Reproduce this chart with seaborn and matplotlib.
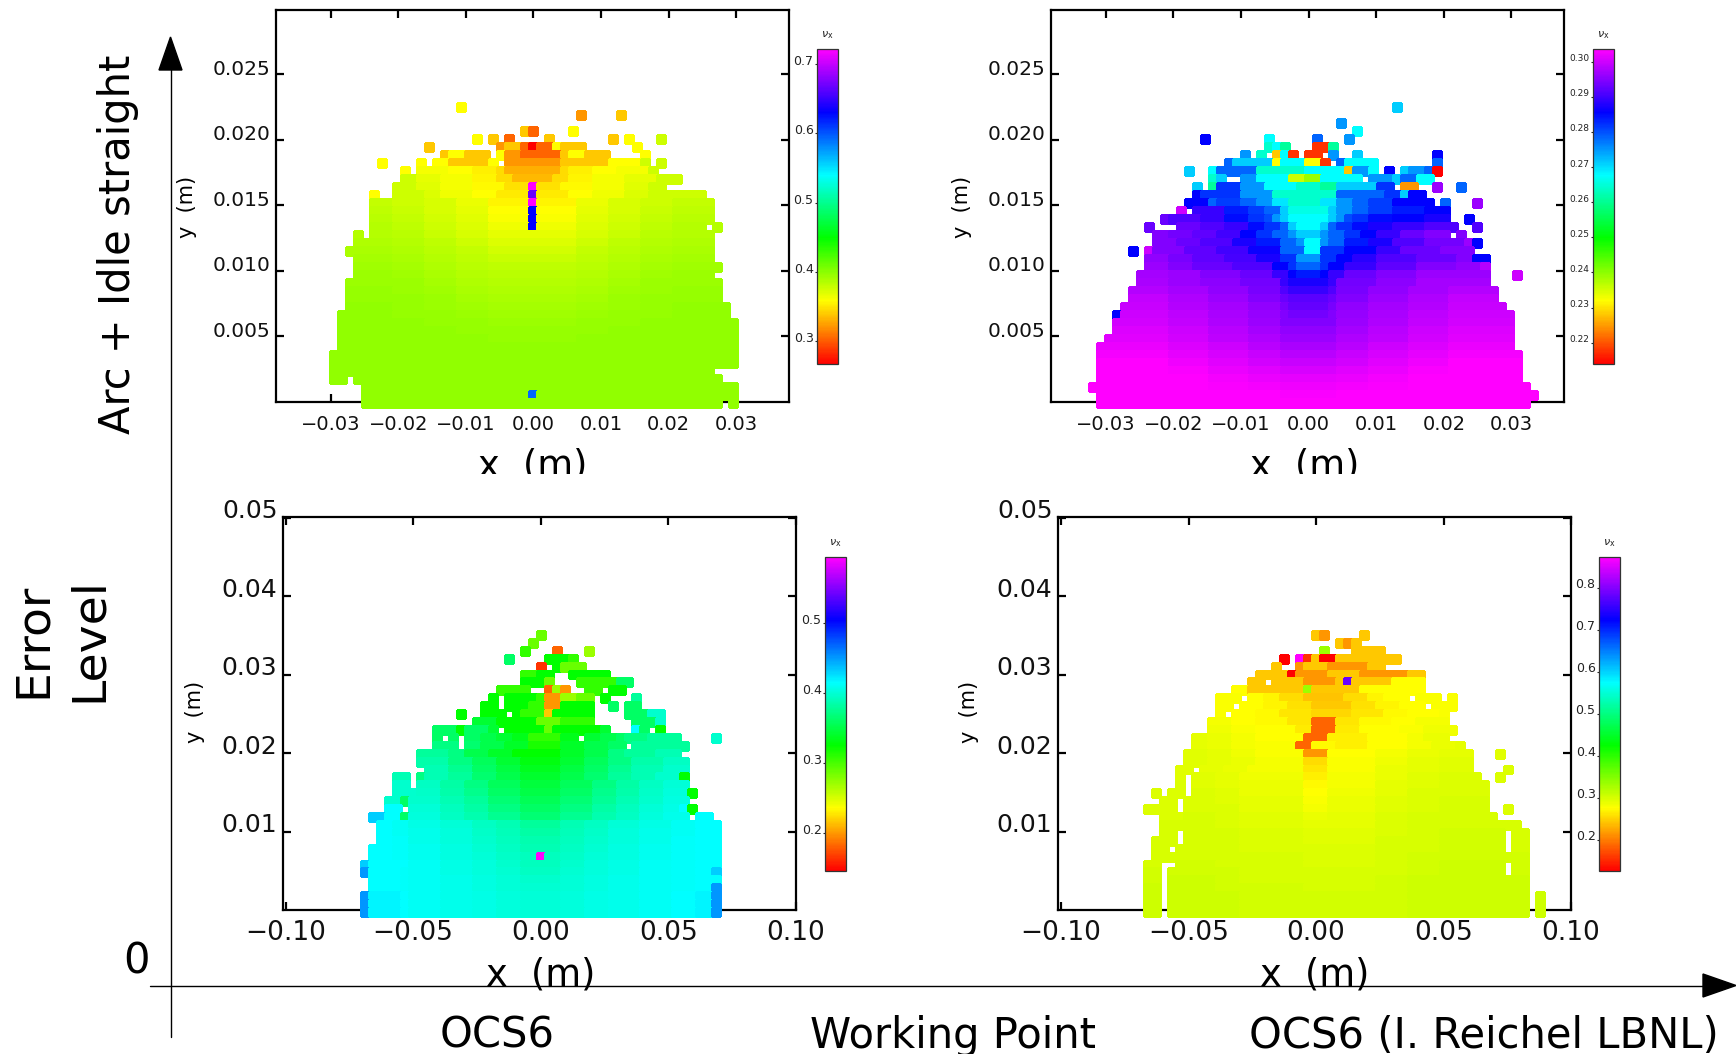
import re
import numpy as np
import matplotlib
matplotlib.use("Agg")
import matplotlib.pyplot as plt
from matplotlib.colors import ListedColormap, hsv_to_rgb
from matplotlib.transforms import ScaledTranslation, Bbox
from matplotlib.patches import Polygon
from matplotlib.lines import Line2D
import seaborn as sns

# Tune maps: one string per row, runs of "<count><level>[tenth]", "." = no particle,
# level a..z runs from the bottom to the top of the panel's colour bar.
tl_rows = ["16. 1f", "31. 1d 4. 1e", "", "24. 1e 1c 4. 1f",
 "18. 1f 1. 1e 1. 1c 4. 1e 7. 1e 1. 1f 3. 1g",
 "12. 1e 8. 1d 2e 1c 1a 2c 1f 3e 6. 1f",
 "14. 1e 2f 3e 1. 1f 2d 5c 1e 2f 3e 4. 1f",
 "6. 1f 4. 1f 1. 2f 3e 2e 1f 1. 7d 6e 4f 1g 1. 1g",
 "9. 1f 1. 4f2 3f 3e7 1e3 7d5 1e3 3e7 3f 4f2 1g",
 "9. 2g 3f5 4f2 3e8 2e3 5d7 2e3 3e8 4f2 4f5 3g",
 "8. 3g 3f6 4f2 4e9 3e4 1z 3e4 4e9 4f2 3f6 2g",
 "5. 1f 2. 4g 2f7 4f3 3f 4e6 1w 4e6 3f 4f3 3f7 4g 3g",
 "5. 3g2 4g 4f8 4f4 5e8 1z 5e8 4f4 4f8 4g 5g2",
 "5. 3g3 4g1 4f8 4f5 5f 1u 5f 4f5 4f8 4g1 5g3",
 "5. 3g4 4g2 4f9 4f6 5f1 1u 5f1 4f6 4f9 4g2 5g4",
 "5. 3g5 4g3 4g 4f7 5f3 1u 5f3 4f7 4g 4g3 4g5 1. 1g5",
 "3. 1g5 1. 3g5 4g4 4g1 4f8 11f5 4f8 4g1 4g4 5g5",
 "3. 2g6 3g6 4g5 4g3 4g 11f7 4g 4g3 4g5 5g6",
 "2. 3g7 3g7 4g6 4g4 4g2 11f9 4g2 4g4 4g6 5g7",
 "3. 2g8 3g8 4g7 4g5 4g3 11g1 4g3 4g5 4g7 5g8",
 "3. 2g9 3g9 4g8 4g6 4g4 11g3 4g4 4g6 4g8 6g9",
 "3. 2h 3h 4g9 4g7 4g5 11g4 4g5 4g7 4g9 5h",
 "2. 3h 3h 4h 4g8 4g6 11g5 4g6 4g8 4h 6h",
 "2. 6h1 4h 4g9 4g7 11g6 4g7 4g9 4h 6h1",
 "2. 6h1 4h1 4h 4g8 11g7 4g8 4h 4h1 6h1",
 "2. 6h2 4h1 4h 4g9 11g8 4g9 4h 4h1 7h2",
 "1. 7h2 4h1 4h1 4h 11g9 4h 4h1 4h1 7h2",
 "1. 7h2 4h2 4h1 4h1 11h 4h1 4h1 4h2 8h2",
 "1. 11h2 4h2 4h1 11h1 4h1 4h2 12h2",
 "1. 19h2 11h1 20h2",
 "1. 50h2",
 "51h2", "51h2", "48h2", "2h2 1. 46h2", "4. 47h2", "4. 21h2 1s 25h2", "4. 45h2 1. 1h2"]

tr_rows = ["38. 1q", "", "31. 1r", "33. 1p",
 "14. 1u 7. 1p 5. 1s 3. 1r",
 "22. 1o 1p 1n 3. 2b 1n",
 "19. 1r 1. 1o 1. 1e 1p 1b 1. 2b 1. 1r 2. 1q 9. 1u",
 "17. 1s 3q 2q 1f 3p 2f 1b 1. 1s 4p 7. 1s",
 "12. 1q 2. 1p 5s 6o 1p 4p 1e 2r 1p 1. 1u 1. 1q 2r 1s 1a",
 "15. 1o 1q 2. 2r 4p 2g 2h 5p 1. 3r 1q 2s 2p",
 "13. 1q 1. 1n 3t 3r 4p 3o 2n 5q 2t 1. 2d 2. 1x 2. 1s",
 "13. 1u 1t 4t 4r 8o 6s 2t 1q 2u",
 "12. 3u 1s 3s8 2s 2r 2p5 4o 2p5 2r 2s 3s8 5u 1. 1s 3. 1x",
 "11. 1y 1. 4v 3t5 2s8 2s 1q 5o5 1q 2r 2s 3s8 4t5 3u",
 "9. 1w 4v5 3v 3t8 2t 1s5 1r 1q 5p 1q 1r 1s5 2t 3t8 4u 3u5 2. 1u",
 "7. 1w 3. 3w 3v5 3v 2t8 2t 1s 1q 3p 1q 1s 2t 2t8 3u5 4v 4v5 2. 1v5",
 "8. 2w5 3w2 3v8 3v2 2u 2t 2s 1r 3q 1r 2s 2t 2u 3v 3w 3w5 1. 1w5",
 "8. 3w5 3w 4v5 3u5 3t5 2s 1r 2p 1r 2s 3t5 3u5 4v5 5w2 1x 1u",
 "5. 1u 1. 1y 4w5 4v8 4v2 4u2 3s 2p 3t 4u 3v 5w 4w5",
 "7. 3w8 3w3 4v8 4v3 3u5 2t 3r 2t 2u 3u8 5v5 5w 2w5 2u",
 "7. 3x 3w5 5w 5v5 2u 1t 3s 1t 2u 4v 5v8 5w5 3w8 1x5",
 "6. 4x2 4x 5w5 4w 2v 1u 3t5 1u 2v 4w 5w5 9x 3. 1y",
 "6. 4x3 4x 5w7 5w2 1v 5u5 1v 5w2 5w7 9x2",
 "5. 5x5 5x2 5w8 4w3 1v5 5v 1v5 4w3 5w8 5x2 6x5",
 "5. 5x8 5x4 5x 4w5 1w 5v7 1w 4w5 5x 5x4 6x8",
 "4. 6x9 5x5 5x2 4w8 1w3 5v9 1w3 4w8 5x2 5x5 7x9",
 "3. 1u 6y 5x7 5x3 4w9 1w5 5w2 1w5 4w9 5x3 5x7 8y",
 "3. 7y1 5x8 5x4 4x 7w5 4x 5x4 5x8 8y1",
 "3. 7y3 5y 5x6 4x2 7w8 4x2 5x6 5y 8y3",
 "2. 8y4 5y1 5x7 4x4 7x 4x4 5x7 5y1 8y4",
 "1. 9y6 5y3 5y 4x6 7x3 4x6 5y 5y3 8y6",
 "1. 9y8 5y5 5y2 4x9 7x6 4x9 5y2 5y5 9y8",
 "1. 9z 5y7 5y4 4y1 7x9 4y1 5y4 5y7 9z",
 "1. 9z 5y9 5y6 4y4 7y2 4y4 5y6 5y9 9z",
 "1. 14z 5y8 4y6 7y5 4y6 5y8 14z",
 "15z 5y9 4y8 7y7 4y8 5y9 15z",
 "1. 23z 7y9 25z",
 "1. 54z"]

bl_rows = ["22. 1i", "21. 1i", "20. 1j 3. 1c 3. 1h", "18. 1m 4. 2k 1k 1j",
 "22. 1b 1. 1k 3i", "20. 2j 2k 2. 5k", "20. 3k 1i 3. 5j 2m",
 "17. 4j 2. 1c 1h 1d 2. 2j 1. 2k",
 "16. 1k 1. 4k 1j 2d 2h 2i 1. 1k 3. 1n",
 "15. 2k 1. 3k 2j 2d 4k 2. 1m 1. 2m",
 "12. 1k 2. 3k 1. 1k 3j 1e 5k 4. 3m 2o",
 "14. 3l 5k 3i 4j 5. 3m 1o",
 "9. 3m 1k 3m 1l 1. 5k 1i 6k 1l 3. 1p 1m 1. 1k",
 "9. 1m 1. 1m 1. 2m 2l5 2l 2k5 4j 2k5 1. 2l 2l5 1m 3m5 4n 4. 1o",
 "9. 3m5 1. 2m2 3l5 3k8 4j5 3k8 3l5 2m 1. 7n",
 "7. 4n 2m5 3l5 3k8 6k 3k8 3l5 2m5 4n 3n5",
 "7. 4n3 3m5 3l8 3l 5k3 3l 3l8 3m5 4n3 3n8",
 "8. 3n5 3m8 3m 3l3 5k6 3l3 3m 3m8 4n5 3o",
 "4. 2n5 1. 1m5 3n5 3n 3m2 3l5 5k9 3l5 3m2 3n 3n5 3o 1k",
 "4. 2o 1. 3n8 3n2 3m5 4l8 5l2 4l8 3m5 3n2 3n8 3o2",
 "4. 3o 3n9 3n3 3m7 4m 5l4 4m 3m7 3n3 3n9 3o3 1k",
 "3. 2o 1m 4o 3n5 3n 4m3 5l7 4m3 3m9 3n5 3o 3o4",
 "3. 2p 1. 4o2 3n7 3n2 4m5 5m 4m5 3n2 3n7 3o2 2o5 1p 1k",
 "1. 2q 2p 1m 4o3 3n8 3n4 4m8 5m3 4m8 3n4 3n8 3o3 3o6 1. 2p",
 "2. 2p 2o8 4o5 4o2 3n8 3n5 5n 3n5 3n8 4o2 4o5 3o8 3p",
 "2. 2p 2o8 4o6 4o3 3n9 3n6 5n2 3n6 3n9 4o3 4o6 3o8 3p",
 "2. 2p 2o9 4o6 4o3 3o 3n7 5n4 3n7 3o 4o3 4o6 3o9 3p",
 "1. 3p 2o9 4o7 4o4 3o1 3n8 5n5 3n8 3o1 4o4 4o7 3o9 3p",
 "1. 3p 2o9 4o7 4o4 3o2 3n9 2n7 1z 2n7 3n9 3o2 4o4 4o7 3o9 3p",
 "1q 5p 4o8 4o5 3o3 3o 5n7 3o 3o3 4o5 4o8 3o9 3p",
 "1r 4p 1o9 4o8 4o5 3o3 3o1 5n8 3o1 3o3 4o5 4o8 3o9 2p 1q",
 "1. 4p 1o9 4o8 4o6 3o4 3o2 5o 3o2 3o4 4o6 4o8 3o9 3p",
 "1. 4p 1o9 4o8 4o6 3o4 3o2 5o1 3o2 3o4 4o6 4o8 3o9 2p 1r",
 "1r 4p2 1p 4o8 4o6 3o5 3o3 5o2 3o3 3o5 4o6 4o8 3p 2p2 1r",
 "1r 4p2 1p 4o8 4o6 3o5 3o3 5o2 3o3 3o5 4o6 4o8 3p 2p2 1r",
 "1r 4p2 1p 4o8 4o6 3o5 3o3 5o2 3o3 3o5 4o6 4o8 3p 2p2 1r"]

br_rows = ["22. 1e 1d 4. 1e", "25. 1e 1d 1e", "23. 1h 3. 4e",
 "18. 1a 1. 1z 1b 1e 2a 2e 6e",
 "17. 1e 2. 1d 3e 5d 2e",
 "15. 4e 1a 4d 4e 6d 2e",
 "14. 2e 1. 4e 4d 1e 1w 5e 4f",
 "12. 2f 7e 1h 6e 8f",
 "10. 3f1 1. 2f 2e8 3e3 5d9 3e3 2e8 3f 1. 3f1 1. 1f1",
 "10. 2f1 1. 3f 3e8 3e4 5e 3e4 3e8 3f 1. 3f1",
 "10. 1f1 1. 3f 3e9 4e5 5e2 4e5 3e9 4f 1f1",
 "9. 3f2 3f 4e9 3e5 3c 3e5 4e9 3f 4f2",
 "9. 3f3 3f1 5f 2e6 3c 3e6 5f 3f1 4f3",
 "7. 2f5 3f4 3f2 6f 3c 5e7 5f 2f2 3f4",
 "7. 2f5 3f4 3f2 5f1 2c 3e9 4e7 5f 3f2 3f4 1f5",
 "6. 3f6 3f5 3f3 6f1 3d 6f 4f2 4f4 4f5 3. 1f6",
 "6. 3f6 3f5 3f4 6f2 3e3 6f1 4f3 4f5 4f6",
 "5. 2f6 1. 3f5 3f4 7f2 3e5 6f1 4f4 4f5 4f6 4. 1f7",
 "5. 1f6 1. 3f6 3f5 8f3 3e7 6f2 4f4 4f6 5f7 2. 1f7",
 "5. 1f7 1. 3f6 3f5 8f4 3e9 6f2 4f5 4f6 6f7",
 "2. 1f7 1. 2f7 1. 3f7 3f6 8f4 3f 6f3 4f5 4f7 6f7",
 "3. 2f7 1. 4f7 3f6 8f5 3f1 6f4 4f6 4f7 6f8",
 "1. 4f7 1. 4f7 3f7 8f5 3f2 6f4 4f6 4f7 6f8 2. 1f7",
 "3. 3f7 4f8 3f7 8f6 3f4 6f5 4f7 4f8 7f8",
 "3. 3f8 4f8 3f7 8f6 3f5 6f5 4f7 4f8 10f8",
 "3. 2f8 1. 4f8 3f8 8f7 3f6 6f6 4f7 4f8 8f9 1. 2f8",
 "2. 3f8 1. 4f8 3f8 8f7 3f6 6f6 4f8 4f8 8f9 1. 2f8",
 "2. 2f8 1. 5f8 3f8 8f7 3f7 6f7 4f8 4f8 8f9 1. 2f8",
 "2. 8f8 3f8 8f8 3f7 6f7 4f8 4f9 11f9",
 "1. 2f8 2. 5f9 3f8 8f8 3f7 6f7 4f8 4f9 8g 1. 2f9",
 "1. 2f9 1. 6f9 3f9 8f8 3f8 6f8 4f8 4f9 8g 1. 2f9",
 "1. 2f9 1. 6g 3f9 8f8 3f8 6f8 4f9 4g 11g",
 "1. 2g 1. 6g 3f9 8f9 3f8 6f8 4f9 4g 11g",
 "1. 2g 1. 9g 8f9 3f9 6f9 4f9 4g 11g 1. 1g",
 "1. 2g 1. 9g 8f9 3f9 6f9 4f9 4g 11g 1. 1g",
 "1. 2g 1. 9g 8f9 3f9 6f9 4f9 4g 11g 1. 1g"]

top_x_ticks = [-0.03, -0.02, -0.01, 0.00, 0.01, 0.02, 0.03]
top_x_labels = ["\u22120.03", "\u22120.02", "\u22120.01", "0.00", "0.01", "0.02", "0.03"]
top_y_ticks = [0.005, 0.010, 0.015, 0.020, 0.025]
top_y_labels = ["0.005", "0.010", "0.015", "0.020", "0.025"]
bot_x_ticks = [-0.10, -0.05, 0.00, 0.05, 0.10]
bot_x_labels = ["\u22120.10", "\u22120.05", "0.00", "0.05", "0.10"]
bot_y_ticks = [0.01, 0.02, 0.03, 0.04, 0.05]
bot_y_labels = ["0.01", "0.02", "0.03", "0.04", "0.05"]
tl_cbar_ticks = [0.3, 0.4, 0.5, 0.6, 0.7]
tr_cbar_ticks = [0.22, 0.23, 0.24, 0.25, 0.26, 0.27, 0.28, 0.29, 0.30]
bl_cbar_ticks = [0.2, 0.3, 0.4, 0.5]
br_cbar_ticks = [0.2, 0.3, 0.4, 0.5, 0.6, 0.7, 0.8]

sns.set_style("white")
plt.rcParams["font.family"] = "DejaVu Sans"
W, H = 1736, 1054
fig = plt.figure(figsize=(W / 100, H / 100), dpi=100)
cmap = ListedColormap(hsv_to_rgb(np.column_stack([np.linspace(0, 5 / 6, 256), np.ones(256), np.ones(256)])))


def decode(rows, ncols, vmin, vmax):
    out = np.full((len(rows), ncols), np.nan)
    for r, row in enumerate(rows):
        c = 0
        for n, ch, tenth in re.findall(r"(\d+)([a-z.])(\d?)", row):
            n = int(n)
            if ch != ".":
                lev = ord(ch) - 97 + (int(tenth) / 10 if tenth else 0)
                out[r, c:c + n] = vmin + (vmax - vmin) * lev / 25
            c += n
    return out


def axbox(l, t, r, b):
    return [l / W, 1 - b / H, (r - l) / W, (b - t) / H]


def panel(rows, ncols, frame, xlim, ylim, x0, dx, y0, dy, xt, xl, yt, yl, cbox, vlim, cticks,
          cfmt, cfs, xfs, yfs, ypad_up, xpad):
    ax = fig.add_axes(axbox(*frame))
    cax = fig.add_axes(axbox(*cbox))
    vals = decode(rows, ncols, *vlim)
    sns.heatmap(vals, ax=ax, cmap=cmap, vmin=vlim[0], vmax=vlim[1], cbar_ax=cax,
                cbar_kws={"ticks": cticks, "format": cfmt}, xticklabels=False, yticklabels=False)
    mesh = ax.collections[0]
    mesh.set_clip_on(False)
    mesh.set_zorder(5)
    mesh.set_edgecolor("face")
    mesh.set_linewidth(0.9)
    mesh.set_joinstyle("miter")
    cx = lambda v: (np.asarray(v) - x0) / dx
    cy = lambda v: (y0 - np.asarray(v)) / dy
    ax.set_xlim(cx(xlim[0]), cx(xlim[1]))
    ax.set_ylim(cy(ylim[0]), cy(ylim[1]))
    ax.set_xticks(cx(xt), xl, fontsize=xfs)
    ax.set_yticks(cy(yt), yl, fontsize=yfs)
    ax.tick_params(which="both", direction="in", length=6, width=1.6, top=True, right=True,
                   bottom=True, left=True, color="black", labelcolor="#111111")
    ax.tick_params(axis="x", pad=xpad)
    ax.tick_params(axis="y", pad=4)
    shift = ScaledTranslation(0, ypad_up / 72, fig.dpi_scale_trans)
    for t in ax.get_yticklabels():
        t.set_transform(t.get_transform() + shift)
    for s in ax.spines.values():
        s.set_visible(True)
        s.set_linewidth(1.6)
        s.set_color("black")
    cax.yaxis.set_ticks_position("left")
    cax.tick_params(axis="y", direction="out", length=1.5, width=0.8, pad=1, labelsize=cfs,
                    labelcolor="#222222", left=True, right=False)
    shift2 = ScaledTranslation(0, 3 / 72, fig.dpi_scale_trans)
    for t in cax.get_yticklabels():
        t.set_transform(t.get_transform() + shift2)
    cb = mesh.colorbar
    cb.outline.set_visible(True)
    cb.outline.set_linewidth(0.9)
    cb.outline.set_edgecolor("#333333")
    fig.text((cbox[0] + cbox[2]) / 2 / W, 1 - (cbox[1] - 14) / H, r"$\nu_{\mathrm{x}}$", fontsize=8,
             ha="center", va="center", color="#222222")


panel(tl_rows, 51, (276, 10, 789.5, 402), (-0.0381, 0.0379), (0, 0.0299),
      -25.5 * 8 / 6760, 8 / 6760, (402 - 103) / 13100, 8 / 13100,
      top_x_ticks, top_x_labels, top_y_ticks, top_y_labels, (817, 49, 838, 364),
      (0.2675, 0.7217), tl_cbar_ticks, "%.1f", 9, 14, 14.5, 5, 9)
panel(tr_rows, 56, (1051, 10, 1564, 402), (-0.03812, 0.03777), (0, 0.0299),
      -27.5 * 8 / 6760, 8 / 6760, (402 - 103) / 13100, 8 / 13100,
      top_x_ticks, top_x_labels, top_y_ticks, top_y_labels, (1593, 49, 1614, 364),
      (0.2139, 0.3037), tr_cbar_ticks, "%.2f", 6.5, 14, 14.5, 5, 9)
panel(bl_rows, 45, (283, 517, 796, 910), (-0.101, 0.0994), (0, 0.0501),
      -22.5 * 8 / 2560, 8 / 2560, (909.5 - 631) / 7830, 7.9 / 7830,
      bot_x_ticks, bot_x_labels, bot_y_ticks, bot_y_labels, (825, 557, 846, 871),
      (0.1457, 0.594), bl_cbar_ticks, "%.1f", 9, 19, 18, 6.5, 7)
panel(br_rows, 51, (1058, 517, 1571, 910), (-0.1012, 0.1), (0, 0.0501),
      -22.5 * 8 / 2550, 8 / 2550, (909.5 - 631) / 7830, 7.9 / 7830,
      bot_x_ticks, bot_x_labels, bot_y_ticks, bot_y_labels, (1599, 557, 1620, 871),
      (0.125, 0.873), br_cbar_ticks, "%.1f", 9, 19, 18, 6.5, 7)


def ftext(x, y, s, size, rot=0, clip=None, **kw):
    t = fig.text(x / W, 1 - y / H, s, fontsize=size, rotation=rot, ha="center", va="center",
                 color="black", **kw)
    if clip is not None:
        t.set_clip_box(Bbox([[0, H - clip], [W, H]]))
        t.set_clip_on(True)
    return t


# axis titles of each panel
for x in (533, 1305):
    ftext(x, 466, "x  (m)", 26.5, clip=474)
for x in (541, 1315):
    ftext(x, 975, "x  (m)", 26.5)
for x, y in ((187, 207), (962, 207), (195, 712), (969, 712)):
    ftext(x, y, "y  (m)", 15, rot=90)

# the big diagram axes
over = fig.add_axes([0, 0, 1, 1], zorder=10)
over.set_xlim(0, W)
over.set_ylim(H, 0)
over.axis("off")
over.patch.set_alpha(0)
over.add_line(Line2D([170.5, 170.5], [1037, 60], color="black", lw=1))
over.add_line(Line2D([149.5, 1705], [985.5, 985.5], color="black", lw=1))
over.add_patch(Polygon([[170.5, 37], [159, 70], [182, 70]], closed=True, color="black"))
over.add_patch(Polygon([[1736, 985.5], [1703, 974], [1703, 997]], closed=True, color="black"))

ftext(118, 244, "Arc + Idle straight", 30, rot=90)
ftext(33, 640, "Error", 34, rot=90)
ftext(89, 640, "Level", 34, rot=90)
ftext(136, 962, "0", 30)
ftext(497, 1036, "OCS6", 30)
ftext(953, 1036, "Working Point", 30)
ftext(1484, 1036, "OCS6 (I. Reichel LBNL)", 30)

fig.savefig("out.png", dpi=100)
